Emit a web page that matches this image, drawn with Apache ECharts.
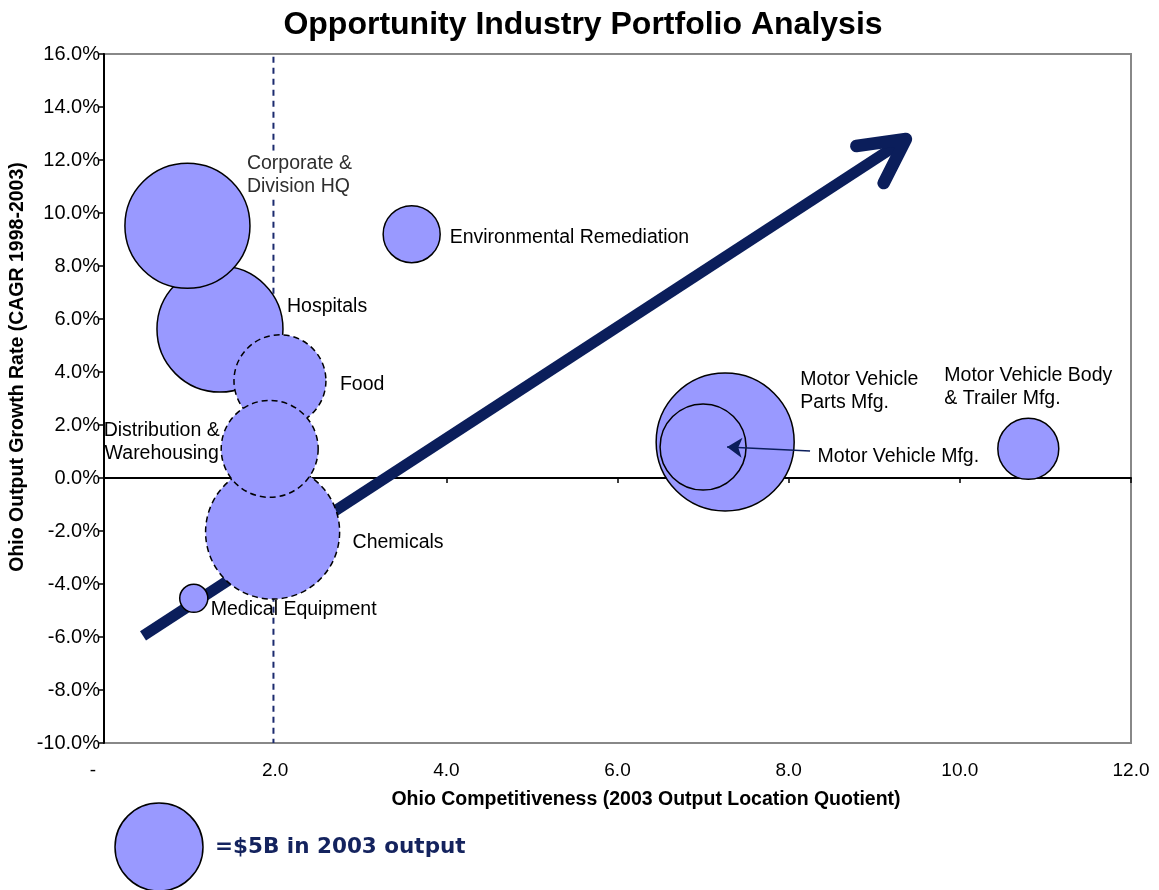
<!DOCTYPE html>
<html>
<head>
<meta charset="utf-8">
<script src="https://cdn.jsdelivr.net/npm/echarts@6/dist/echarts.min.js"></script>
<style>
  html, body { margin: 0; padding: 0; background: #fff; }
  #chart { width: 1159px; height: 890px; }
</style>
</head>
<body>
<div id="chart"></div>
<script>
// ---- Data ----
const industries = [
  'Chemicals', 'Hospitals', 'Corporate & Division HQ', 'Food',
  'Distribution & Warehousing', 'Medical Equipment', 'Environmental Remediation',
  'Motor Vehicle Parts Mfg.', 'Motor Vehicle Mfg.', 'Motor Vehicle Body & Trailer Mfg.'
];
const competitiveness = [1.97, 1.355, 0.975, 2.056, 1.936, 1.049, 3.595, 7.258, 7.0, 10.80];   // 2003 output LQ
const growthRate      = [-2.04, 5.62, 9.52, 3.67, 1.10, -4.54, 9.20, 1.36, 1.17, 1.10];        // CAGR 1998-2003, %
const output2003      = [11.6, 10.25, 10.1, 5.46, 6.07, 0.51, 2.10, 12.3, 4.78, 2.40];         // $B
const estimatedIndustries = ['Food', 'Distribution & Warehousing', 'Chemicals'];               // dashed outline
const legendOutput = 5;                                                                        // =$5B bubble
const xTickValues = [0, 2, 4, 6, 8, 10, 12];
const yTickValues = [-10, -8, -6, -4, -2, 0, 2, 4, 6, 8, 10, 12, 14, 16];
const cutoffLine = [[1.98, 15.9], [1.98, -10]];
const trendShaft = [[0.456, -5.96], [9.37, 12.79]];
const trendHead  = [[8.79, 12.53], [9.37, 12.79], [9.11, 11.13]];
const mvLeader   = [[8.25, 1.02], [7.28, 1.17]];

// ---- Styling / layout ----
const F = "'Liberation Sans', Arial, Helvetica, sans-serif";
const NAVY = '#0b1e5b';
const BUBBLE = '#9999ff';
const LEGEND_DIAM = 88;
const labelText = {
  'Corporate & Division HQ': 'Corporate &\nDivision HQ',
  'Distribution & Warehousing': 'Distribution &\nWarehousing',
  'Motor Vehicle Parts Mfg.': 'Motor Vehicle\nParts Mfg.',
  'Motor Vehicle Body & Trailer Mfg.': 'Motor Vehicle Body\n& Trailer Mfg.'
};
// [dx, dy, align] relative to bubble centre, in px
const labelPlace = {
  'Chemicals': [80, 11, 'left'],
  'Hospitals': [67, -22, 'left'],
  'Corporate & Division HQ': [59.5, -51, 'left'],
  'Food': [60, 4, 'left'],
  'Distribution & Warehousing': [-108, -7, 'center'],
  'Medical Equipment': [17, 11, 'left'],
  'Environmental Remediation': [38, 3, 'left'],
  'Motor Vehicle Parts Mfg.': [75, -50.5, 'left'],
  'Motor Vehicle Mfg.': [114.5, 10, 'left'],
  'Motor Vehicle Body & Trailer Mfg.': [-84, -62, 'left']
};
const diam = v => LEGEND_DIAM * Math.sqrt(v / legendOutput);

const bubbleData = industries.map((name, i) => {
  const p = labelPlace[name];
  const isHQ = name === 'Corporate & Division HQ';
  return {
    name: name,
    value: [competitiveness[i], growthRate[i], output2003[i]],
    itemStyle: {
      color: BUBBLE, opacity: 1, borderColor: '#000', borderWidth: 1.5,
      borderType: estimatedIndustries.includes(name) ? [6, 4] : 'solid'
    },
    label: {
      show: true, position: 'inside', offset: [p[0], p[1]], align: p[2], verticalAlign: 'middle',
      formatter: labelText[name] || name,
      fontSize: 19.5, fontFamily: F, lineHeight: 23,
      color: isHQ ? '#2e2e2e' : '#000', textBorderWidth: 0,
      backgroundColor: isHQ ? '#fff' : 'transparent',
      padding: isHQ ? [1, 0, 1, 0] : 0
    }
  };
});

const chart = echarts.init(document.getElementById('chart'), null, { renderer: 'canvas' });
const option = {
  animation: false,
  backgroundColor: '#fff',
  title: {
    text: 'Opportunity Industry Portfolio Analysis', left: 583, top: 9, padding: 0,
    textAlign: 'center',
    textStyle: { fontFamily: F, fontWeight: 'bold', fontSize: 32, color: '#000' }
  },
  grid: { left: 104, right: 28, top: 54, bottom: 147, show: true, borderColor: '#888', borderWidth: 2 },
  xAxis: [
    {
      type: 'value', position: 'bottom', min: xTickValues[0], max: xTickValues[xTickValues.length - 1], interval: 2,
      axisLine: { show: false, onZero: false }, axisTick: { show: false }, splitLine: { show: false },
      axisLabel: {
        margin: 18, fontSize: 19, color: '#000', fontFamily: F,
        formatter: v => v === 0 ? '{z|-}' : v.toFixed(1),
        rich: { z: { padding: [0, 22, 0, 0], fontSize: 19, color: '#000', fontFamily: F } }
      }
    },
    {
      type: 'value', position: 'bottom', min: xTickValues[0], max: xTickValues[xTickValues.length - 1], interval: 2,
      axisLine: { show: true, onZero: true, lineStyle: { color: '#000', width: 2 } },
      axisTick: { show: true, length: 5, lineStyle: { color: '#000', width: 1.5 } },
      axisLabel: { show: false }, splitLine: { show: false }
    }
  ],
  yAxis: {
    type: 'value', min: yTickValues[0], max: yTickValues[yTickValues.length - 1], interval: 2,
    axisLine: { show: true, onZero: false, lineStyle: { color: '#000', width: 2 } },
    axisTick: { show: true, length: 5, lineStyle: { color: '#000', width: 1.5 } },
    axisLabel: { margin: 4, fontSize: 20, color: '#000', fontFamily: F, formatter: v => v.toFixed(1) + '%' },
    splitLine: { show: false }
  },
  series: [
    {
      type: 'line', data: cutoffLine, symbol: 'none', silent: true, z: 1,
      lineStyle: { color: '#1b2a6e', width: 2, type: [6, 5] }
    },
    {
      type: 'line', data: trendShaft, symbol: 'none', silent: true, z: 2,
      lineStyle: { color: NAVY, width: 11, cap: 'butt' }
    },
    {
      type: 'line', data: trendHead, symbol: 'none', silent: true, z: 2,
      lineStyle: { color: NAVY, width: 12.5, cap: 'round', join: 'round' }
    },
    {
      type: 'scatter', data: bubbleData, z: 4,
      symbolSize: v => diam(v[2])
    },
    {
      type: 'lines', coordinateSystem: 'cartesian2d', silent: true, z: 6,
      color: NAVY,
      data: [{ coords: mvLeader }],
      symbol: ['none', 'arrow'], symbolSize: 15,
      itemStyle: { color: NAVY, opacity: 1 },
      lineStyle: { color: NAVY, width: 1.5, opacity: 1, curveness: 0 }
    }
  ],
  graphic: [
    {
      type: 'text', x: 18, y: 367, rotation: Math.PI / 2,
      style: {
        text: 'Ohio Output Growth Rate (CAGR 1998-2003)',
        font: 'bold 19.5px ' + F, fill: '#000',
        align: 'center', verticalAlign: 'middle', textAlign: 'center', textVerticalAlign: 'middle'
      }
    },
    {
      type: 'text', x: 646, y: 800,
      style: {
        text: 'Ohio Competitiveness (2003 Output Location Quotient)',
        font: 'bold 19.5px ' + F, fill: '#000',
        align: 'center', verticalAlign: 'middle', textAlign: 'center', textVerticalAlign: 'middle'
      }
    },
    {
      type: 'circle', shape: { cx: 159, cy: 847, r: diam(legendOutput) / 2 },
      style: { fill: BUBBLE, stroke: '#000', lineWidth: 1.5 }
    },
    {
      type: 'text', x: 215, y: 847,
      style: {
        text: '=$' + legendOutput + 'B in 2003 output',
        font: "bold 21.5px 'DejaVu Sans', Verdana, sans-serif", fill: '#14235e',
        align: 'left', verticalAlign: 'middle', textAlign: 'left', textVerticalAlign: 'middle'
      }
    }
  ]
};
chart.setOption(option);
</script>
</body>
</html>
